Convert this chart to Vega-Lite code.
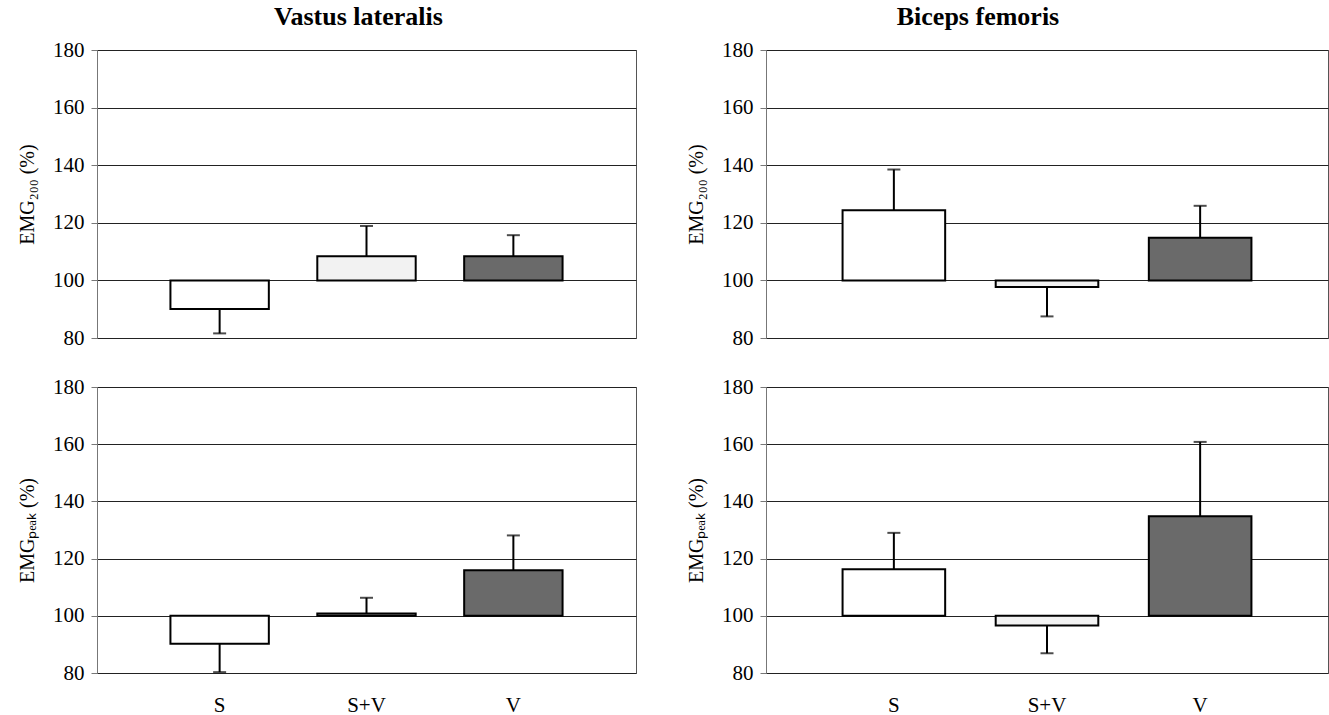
{
  "$schema": "https://vega.github.io/schema/vega-lite/v6.json",
  "background": "white",
  "padding": {"left": 17, "top": 3, "right": 0, "bottom": 0},
  "config": {
    "font": "Liberation Serif",
    "view": {"stroke": "#555", "strokeWidth": 1},
    "axisY": {
      "grid": true,
      "gridColor": "#222",
      "gridWidth": 1,
      "tickSize": 6,
      "tickColor": "#777",
      "domainColor": "#777",
      "labelFont": "Liberation Serif",
      "labelFontSize": 21,
      "labelColor": "black",
      "labelPadding": 7,
      "titleFont": "Liberation Serif",
      "titleFontSize": 20,
      "titleFontWeight": "normal",
      "titleColor": "black",
      "titlePadding": 15
    },
    "axisX": {
      "labelAngle": 0,
      "ticks": false,
      "domain": false,
      "grid": false,
      "title": null,
      "labelFont": "Liberation Serif",
      "labelFontSize": 21,
      "labelColor": "black",
      "labelPadding": 21
    },
    "title": {"fontSize": 26, "fontWeight": "bold", "color": "black", "offset": 9, "font": "Liberation Serif"}
  },
  "data": {
    "values": [
      {"muscle": "VL", "measure": "200", "cond": "S", "value": 90.1, "err": 81.6},
      {"muscle": "VL", "measure": "200", "cond": "S+V", "value": 108.4, "err": 118.9},
      {"muscle": "VL", "measure": "200", "cond": "V", "value": 108.4, "err": 115.7},
      {"muscle": "BF", "measure": "200", "cond": "S", "value": 124.4, "err": 138.5},
      {"muscle": "BF", "measure": "200", "cond": "S+V", "value": 97.7, "err": 87.5},
      {"muscle": "BF", "measure": "200", "cond": "V", "value": 114.8, "err": 125.9},
      {"muscle": "VL", "measure": "peak", "cond": "S", "value": 90.2, "err": 80.3},
      {"muscle": "VL", "measure": "peak", "cond": "S+V", "value": 100.8, "err": 106.3},
      {"muscle": "VL", "measure": "peak", "cond": "V", "value": 115.9, "err": 128.1},
      {"muscle": "BF", "measure": "peak", "cond": "S", "value": 116.3, "err": 129.0},
      {"muscle": "BF", "measure": "peak", "cond": "S+V", "value": 96.6, "err": 86.9},
      {"muscle": "BF", "measure": "peak", "cond": "V", "value": 134.8, "err": 160.8}
    ]
  },
  "spacing": 49,
  "hconcat": [
    {
      "spacing": 26,
      "vconcat": [
        {
          "width": 539, "height": 288,
          "title": {"text": "Vastus lateralis", "dx": -8},
          "transform": [{"filter": "datum.muscle === 'VL' && datum.measure === '200'"}],
          "encoding": {
            "x": {"field": "cond", "type": "nominal", "sort": ["S", "S+V", "V"], "scale": {"paddingInner": 0.33, "paddingOuter": 0.5}, "axis": null}
          },
          "layer": [
            {"mark": {"type": "rule", "stroke": "black", "strokeWidth": 2},
             "encoding": {"y": {"field": "value", "type": "quantitative", "title": "EMG₂₀₀ (%)", "scale": {"domain": [80, 180], "nice": false}, "axis": {"values": [80, 100, 120, 140, 160, 180]}}, "y2": {"field": "err"}}},
            {"mark": {"type": "bar", "stroke": "black", "strokeWidth": 2},
             "encoding": {"y": {"field": "value", "type": "quantitative", "title": "EMG₂₀₀ (%)"}, "y2": {"datum": 100},
               "fill": {"field": "cond", "type": "nominal", "scale": {"domain": ["S", "S+V", "V"], "range": ["#ffffff", "#f2f2f2", "#6a6a6a"]}, "legend": null}}},
            {"mark": {"type": "tick", "color": "black", "thickness": 2, "size": 13},
             "encoding": {"y": {"field": "err", "type": "quantitative", "title": "EMG₂₀₀ (%)"}}}
          ]
        },
        {
          "width": 539, "height": 286,
          "transform": [{"filter": "datum.muscle === 'VL' && datum.measure === 'peak'"}],
          "encoding": {
            "x": {"field": "cond", "type": "nominal", "sort": ["S", "S+V", "V"], "scale": {"paddingInner": 0.33, "paddingOuter": 0.5}}
          },
          "layer": [
            {"mark": {"type": "rule", "stroke": "black", "strokeWidth": 2},
             "encoding": {"y": {"field": "value", "type": "quantitative", "title": "EMGₚₑₐₖ (%)", "scale": {"domain": [80, 180], "nice": false}, "axis": {"values": [80, 100, 120, 140, 160, 180]}}, "y2": {"field": "err"}}},
            {"mark": {"type": "bar", "stroke": "black", "strokeWidth": 2},
             "encoding": {"y": {"field": "value", "type": "quantitative", "title": "EMGₚₑₐₖ (%)"}, "y2": {"datum": 100},
               "fill": {"field": "cond", "type": "nominal", "scale": {"domain": ["S", "S+V", "V"], "range": ["#ffffff", "#f2f2f2", "#6a6a6a"]}, "legend": null}}},
            {"mark": {"type": "tick", "color": "black", "thickness": 2, "size": 13},
             "encoding": {"y": {"field": "err", "type": "quantitative", "title": "EMGₚₑₐₖ (%)"}}}
          ]
        }
      ]
    },
    {
      "spacing": 26,
      "vconcat": [
        {
          "width": 562, "height": 288,
          "title": {"text": "Biceps femoris", "dx": -69},
          "transform": [{"filter": "datum.muscle === 'BF' && datum.measure === '200'"}],
          "encoding": {
            "x": {"field": "cond", "type": "nominal", "sort": ["S", "S+V", "V"], "scale": {"paddingInner": 0.33, "paddingOuter": 0.5}, "axis": null}
          },
          "layer": [
            {"mark": {"type": "rule", "stroke": "black", "strokeWidth": 2},
             "encoding": {"y": {"field": "value", "type": "quantitative", "title": "EMG₂₀₀ (%)", "scale": {"domain": [80, 180], "nice": false}, "axis": {"values": [80, 100, 120, 140, 160, 180]}}, "y2": {"field": "err"}}},
            {"mark": {"type": "bar", "stroke": "black", "strokeWidth": 2},
             "encoding": {"y": {"field": "value", "type": "quantitative", "title": "EMG₂₀₀ (%)"}, "y2": {"datum": 100},
               "fill": {"field": "cond", "type": "nominal", "scale": {"domain": ["S", "S+V", "V"], "range": ["#ffffff", "#f2f2f2", "#6a6a6a"]}, "legend": null}}},
            {"mark": {"type": "tick", "color": "black", "thickness": 2, "size": 13},
             "encoding": {"y": {"field": "err", "type": "quantitative", "title": "EMG₂₀₀ (%)"}}}
          ]
        },
        {
          "width": 562, "height": 286,
          "transform": [{"filter": "datum.muscle === 'BF' && datum.measure === 'peak'"}],
          "encoding": {
            "x": {"field": "cond", "type": "nominal", "sort": ["S", "S+V", "V"], "scale": {"paddingInner": 0.33, "paddingOuter": 0.5}}
          },
          "layer": [
            {"mark": {"type": "rule", "stroke": "black", "strokeWidth": 2},
             "encoding": {"y": {"field": "value", "type": "quantitative", "title": "EMGₚₑₐₖ (%)", "scale": {"domain": [80, 180], "nice": false}, "axis": {"values": [80, 100, 120, 140, 160, 180]}}, "y2": {"field": "err"}}},
            {"mark": {"type": "bar", "stroke": "black", "strokeWidth": 2},
             "encoding": {"y": {"field": "value", "type": "quantitative", "title": "EMGₚₑₐₖ (%)"}, "y2": {"datum": 100},
               "fill": {"field": "cond", "type": "nominal", "scale": {"domain": ["S", "S+V", "V"], "range": ["#ffffff", "#f2f2f2", "#6a6a6a"]}, "legend": null}}},
            {"mark": {"type": "tick", "color": "black", "thickness": 2, "size": 13},
             "encoding": {"y": {"field": "err", "type": "quantitative", "title": "EMGₚₑₐₖ (%)"}}}
          ]
        }
      ]
    }
  ]
}
